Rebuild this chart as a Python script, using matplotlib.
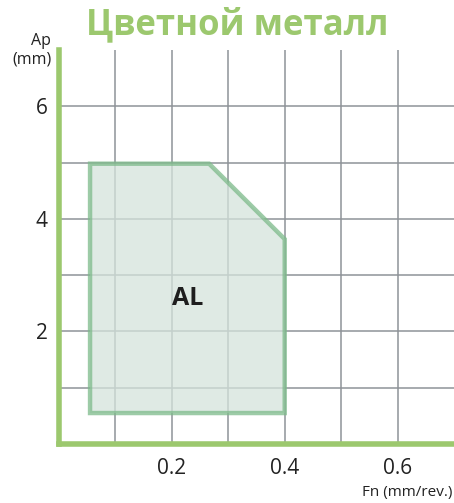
import matplotlib.pyplot as plt
from matplotlib.patches import Polygon

# operating window for aluminium (feed vs depth of cut)
region_fn = [0.055, 0.055, 0.266, 0.40, 0.40]
region_ap = [0.55, 4.98, 4.98, 3.64, 0.55]
region_name = "AL"
label_pos = (0.228, 2.58)

x_ticks = [0.2, 0.4, 0.6]
y_ticks = [2, 4, 6]
x_grid = [0.1, 0.2, 0.3, 0.4, 0.5, 0.6]
y_grid = [1, 2, 3, 4, 5, 6]

green = "#9cc86e"
plt.rcParams["font.family"] = ["Open Sans", "DejaVu Sans"]

fig = plt.figure(figsize=(4.54, 5.03), dpi=100)
ax = fig.add_axes([0.130, 0.1173, 0.870, 0.7833])
ax.set_xlim(0, 0.7)
ax.set_ylim(0, 7)

for x in x_grid:
    ax.axvline(x, color="#8e9398", lw=1.1, zorder=1)
for y in y_grid:
    ax.axhline(y, color="#8e9398", lw=1.1, zorder=1)

poly = Polygon(list(zip(region_fn, region_ap)), closed=True,
               facecolor="#d5e3dc", edgecolor="#7dba8a", lw=3.2,
               alpha=0.75, zorder=2)
ax.add_patch(poly)
ax.text(*label_pos, region_name, ha="center", va="center",
        fontsize=18, fontweight="bold", color="#1e1e1e", zorder=3)

for side in ("top", "right"):
    ax.spines[side].set_visible(False)
for side in ("left", "bottom"):
    ax.spines[side].set_color(green)
    ax.spines[side].set_linewidth(4)

ax.set_xticks(x_ticks)
ax.set_xticklabels([f"{v:.1f}" for v in x_ticks])
ax.set_yticks(y_ticks)
ax.tick_params(length=0, labelsize=15, colors="#222222", pad=8)
ax.tick_params(axis="x", pad=10)

fig.text(0.522, 0.949, "Цветной металл", ha="center", va="center",
         fontsize=25, fontweight="bold", color=green)
# axis titles
fig.text(0.113, 0.9105, "Ap", ha="right", va="baseline",
         fontsize=11.5, color="#222222")
fig.text(0.113, 0.873, "(mm)", ha="right", va="baseline",
         fontsize=11.5, color="#222222")
fig.text(0.997, 0.006, "Fn (mm/rev.)", ha="right", va="bottom",
         fontsize=11, color="#222222")

fig.savefig("out.png", dpi=100)
